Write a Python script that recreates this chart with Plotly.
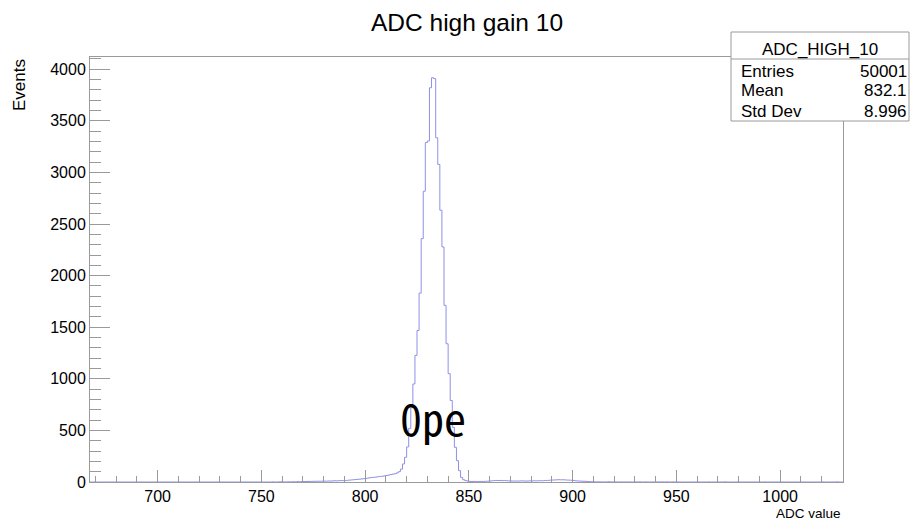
import plotly.graph_objects as go

# ---------------- data ----------------
title_text = "ADC high gain 10"
x_title = "ADC value"
y_title = "Events"
stats_name = "ADC_HIGH_10"
stats_labels = ["Entries", "Mean", "Std Dev"]
stats_values = ["50001", "832.1", "8.996"]
peak_label = "0pe"
peak_label_pos = [832.5, 630]

hist_lo = 667          # first bin edge
hist_hi = 1031         # last bin edge (1 unit bins)

core_start = 755       # first bin of the contiguous block below
core_counts = [
    1, 0, 0, 1, 2, 1, 0, 1, 2, 1,            # 755-764
    3, 2, 4, 3, 4, 5, 4, 6, 5, 6,            # 765-774
    7, 6, 8, 7, 8, 9, 8, 10, 9, 11,          # 775-784
    12, 11, 13, 14, 13, 15, 16, 18, 20, 22,  # 785-794
    24, 26, 28, 30, 32, 35, 38, 42, 44, 46,  # 795-804
    48, 52, 54, 56, 60, 63, 68, 72, 76, 80,  # 805-814
    88, 100, 125, 175, 240, 340, 520, 720, 950, 1227,        # 815-824
    1469, 1831, 2359, 2818, 3290, 3305, 3821, 3918, 3910, 3336,  # 825-834
    3078, 2634, 2278, 1712, 1340, 1050, 790, 530, 336, 207,  # 835-844
    110, 45, 22, 14, 9, 6, 5, 6, 4, 5,       # 845-854
    6, 5, 6, 7, 8, 10, 12, 14, 15, 14,       # 855-864
    15, 13, 14, 12, 11, 10, 9, 10, 9, 10,    # 865-874
    11, 10, 9, 10, 11, 10, 12, 11, 12, 13,   # 875-884
    12, 14, 15, 16, 18, 19, 20, 21, 22, 21,  # 885-894
    22, 20, 19, 18, 17, 15, 12, 10, 9, 8,    # 895-904
    7, 6, 5, 4, 3, 2, 1, 2, 1, 1,            # 905-914
    0, 1, 2, 1, 0, 1, 1, 0, 1, 0,            # 915-924
    1, 0, 1, 0, 0, 1, 0, 1, 0, 0,            # 925-934
    1, 0, 0, 1, 0, 1, 1, 0, 1, 0,            # 935-944
    1, 0, 0, 1, 0, 1,                        # 945-950
]
sparse_bins = [960, 965, 973, 979, 992, 1020, 1027]
sparse_counts = [1, 1, 1, 1, 1, 1, 1]

x_range = [667.4, 1030.3]
y_range = [0, 4119]

# ---------------- build histogram outline ----------------
counts = {b: 0 for b in range(hist_lo, hist_hi)}
for i, c in enumerate(core_counts):
    counts[core_start + i] = c
for b, c in zip(sparse_bins, sparse_counts):
    counts[b] = c

edges = list(range(hist_lo, hist_hi))
vals = [counts[b] for b in edges]
xs = edges + [hist_hi]
ys = vals + [vals[-1]]

FONT = "Liberation Sans, Arial, Helvetica, sans-serif"
GRAY = "#9a9a9a"

# plot area in pixels
W, H = 910, 522
L, R, T, B = 90, 843, 57, 482


def px(xp):
    return (xp - L) / (R - L)


def py(yp):
    return (B - yp) / (B - T)


fig = go.Figure()
fig.add_trace(go.Scatter(
    x=xs, y=ys, mode="lines", line=dict(color="#8f8fe8", width=1, shape="hv"),
    hoverinfo="skip", showlegend=False,
))

fig.update_layout(
    width=W, height=H,
    margin=dict(l=L, r=W - R, t=T, b=H - B, pad=0),
    paper_bgcolor="white", plot_bgcolor="white",
    showlegend=False,
    font=dict(family=FONT, color="black"),
)

fig.update_xaxes(
    range=x_range, showgrid=False, zeroline=False,
    showline=True, linecolor=GRAY, linewidth=1, mirror=True,
    ticks="inside", ticklen=12, tickwidth=1, tickcolor=GRAY,
    tick0=700, dtick=50,
    minor=dict(ticks="inside", ticklen=6, tickwidth=1, tickcolor=GRAY, tick0=700, dtick=10, showgrid=False),
    tickfont=dict(family=FONT, size=16, color="black"),
)
fig.update_yaxes(
    range=y_range, showgrid=False, zeroline=False,
    showline=True, linecolor=GRAY, linewidth=1, mirror=True,
    ticks="inside", ticklen=20, tickwidth=1, tickcolor=GRAY,
    tick0=0, dtick=500,
    minor=dict(ticks="inside", ticklen=11, tickwidth=1, tickcolor=GRAY, tick0=0, dtick=100, showgrid=False),
    tickfont=dict(family=FONT, size=16, color="black"),
)

annotations = []
# title
annotations.append(dict(
    text=title_text, xref="paper", yref="paper", x=px(466.5), y=py(22),
    xanchor="center", yanchor="middle", showarrow=False,
    font=dict(family=FONT, size=24.5, color="black"),
))
# y title
annotations.append(dict(
    text=y_title, xref="paper", yref="paper", x=px(19), y=py(57),
    xanchor="center", yanchor="top", textangle=-90, showarrow=False,
    font=dict(family=FONT, size=17, color="black"),
))
# x title
annotations.append(dict(
    text=x_title, xref="paper", yref="paper", x=1.0, y=py(513),
    xanchor="right", yanchor="middle", showarrow=False,
    font=dict(family=FONT, size=13.5, color="black"),
))
# peak label
annotations.append(dict(
    text=peak_label, xref="x", yref="y", x=peak_label_pos[0], y=peak_label_pos[1],
    xanchor="center", yanchor="middle", showarrow=False,
    font=dict(family="Noto Sans Mono CJK JP, DejaVu Sans Mono, monospace", size=44, color="black"),
))

# stats box
bx0, bx1, by0, by1, bsep = 731, 909, 32, 121, 59
shapes = [
    dict(type="rect", xref="paper", yref="paper", x0=px(bx0), x1=px(bx1), y0=py(by1), y1=py(by0),
         fillcolor="white", line=dict(color=GRAY, width=1), layer="above"),
    dict(type="line", xref="paper", yref="paper", x0=px(bx0), x1=px(bx1), y0=py(bsep), y1=py(bsep),
         line=dict(color=GRAY, width=1), layer="above"),
]
annotations.append(dict(
    text=stats_name, xref="paper", yref="paper", x=px((bx0 + bx1) / 2), y=py(49),
    xanchor="center", yanchor="middle", showarrow=False,
    font=dict(family=FONT, size=17, color="black"),
))
row_y = [71, 91, 111]
for lab, val, yy in zip(stats_labels, stats_values, row_y):
    annotations.append(dict(
        text=lab, xref="paper", yref="paper", x=px(739), y=py(yy),
        xanchor="left", yanchor="middle", showarrow=False,
        font=dict(family=FONT, size=17, color="black"),
    ))
    annotations.append(dict(
        text=val, xref="paper", yref="paper", x=px(909), y=py(yy),
        xanchor="right", yanchor="middle", showarrow=False,
        font=dict(family=FONT, size=17, color="black"),
    ))

fig.update_layout(annotations=annotations, shapes=shapes)
fig.write_html(
    "out.html",
    config={"displayModeBar": False},
    post_script="document.body.style.margin='0';document.body.style.overflow='hidden';",
)
